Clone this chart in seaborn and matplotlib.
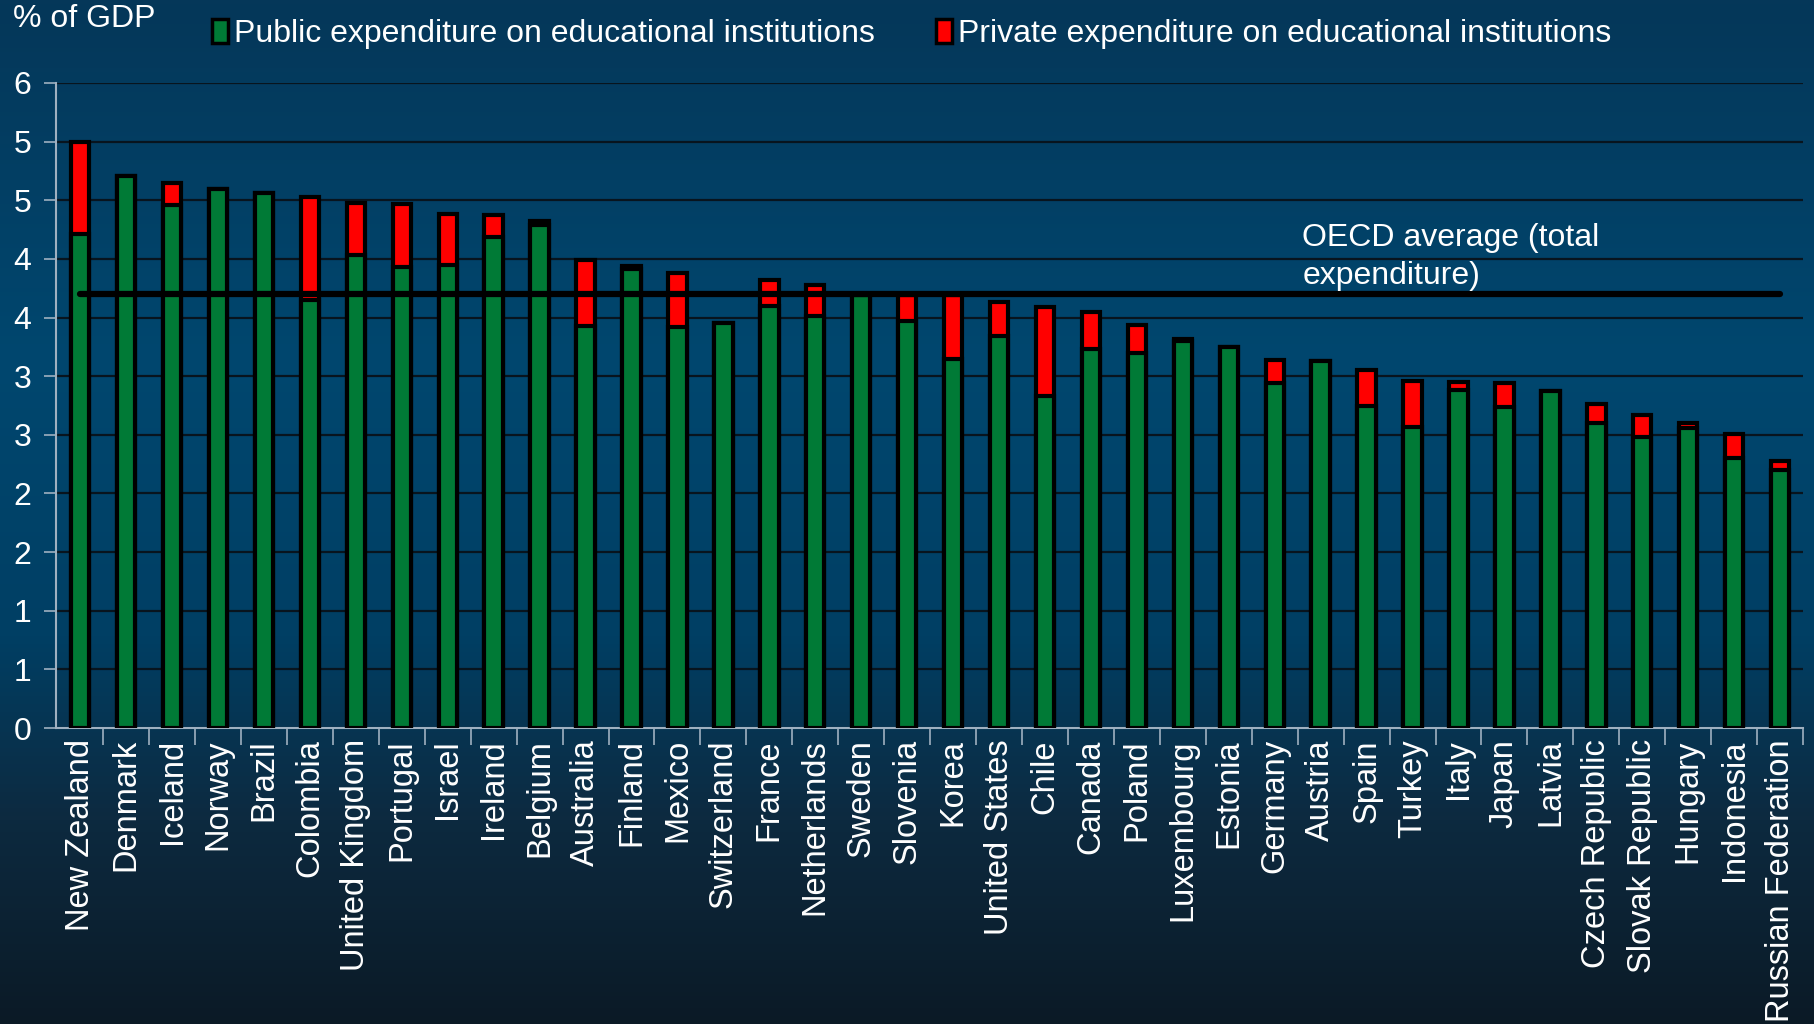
import numpy as np
import pandas as pd
import seaborn as sns
import matplotlib.pyplot as plt
from matplotlib.colors import LinearSegmentedColormap
from matplotlib.patches import Patch
from matplotlib.ticker import FuncFormatter, MultipleLocator

# data (% of GDP)
countries = ["New Zealand", "Denmark", "Iceland", "Norway", "Brazil", "Colombia",
             "United Kingdom", "Portugal", "Israel", "Ireland", "Belgium", "Australia",
             "Finland", "Mexico", "Switzerland", "France", "Netherlands", "Sweden",
             "Slovenia", "Korea", "United States", "Chile", "Canada", "Poland",
             "Luxembourg", "Estonia", "Germany", "Austria", "Spain", "Turkey", "Italy",
             "Japan", "Latvia", "Czech Republic", "Slovak Republic", "Hungary",
             "Indonesia", "Russian Federation"]
public = [4.21, 4.71, 4.46, 4.60, 4.56, 3.65, 4.03, 3.93, 3.95, 4.19, 4.29, 3.43,
          3.91, 3.42, 3.45, 3.60, 3.51, 3.69, 3.47, 3.15, 3.34, 2.83, 3.23, 3.20,
          3.30, 3.25, 2.94, 3.13, 2.75, 2.57, 2.88, 2.74, 2.87, 2.60, 2.48, 2.56,
          2.30, 2.20]
total = [5.00, 4.71, 4.65, 4.60, 4.56, 4.53, 4.48, 4.47, 4.38, 4.37, 4.32, 3.99,
         3.94, 3.88, 3.45, 3.82, 3.78, 3.69, 3.69, 3.69, 3.63, 3.59, 3.55, 3.44,
         3.32, 3.25, 3.14, 3.13, 3.05, 2.96, 2.95, 2.94, 2.87, 2.76, 2.67, 2.60,
         2.51, 2.28]
oecd_avg = 3.70

df = pd.DataFrame({"country": countries, "public": public, "total": total})

plt.rcParams['font.family'] = ['Liberation Sans', 'DejaVu Sans']
fig = plt.figure(figsize=(18.14, 10.24), dpi=100)

# gradient background
bg = fig.add_axes([0, 0, 1, 1], zorder=-10)
cmap = LinearSegmentedColormap.from_list("bg", [(0.0, "#053759"), (0.35, "#00476f"),
                                                 (0.62, "#003f64"), (0.8, "#0d2a40"),
                                                 (1.0, "#0b1a26")])
grad = np.linspace(0, 1, 256).reshape(-1, 1)
bg.imshow(grad, aspect="auto", cmap=cmap, extent=[0, 1, 0, 1], origin="upper")
bg.axis("off")

ax = fig.add_axes([0.031, 0.289, 0.963, 0.630])
ax.set_facecolor("none")

sns.barplot(data=df, x="country", y="total", order=countries, color="#ff0000",
            width=0.4, edgecolor="black", linewidth=3, saturation=1, ax=ax, zorder=3)
sns.barplot(data=df, x="country", y="public", order=countries, color="#007a36",
            width=0.4, edgecolor="black", linewidth=3, saturation=1, ax=ax, zorder=4)

ax.hlines(oecd_avg, 0, len(countries) - 1, color="black", linewidth=4.5, zorder=6,
          capstyle="round")
ax.text(26.6, oecd_avg + 0.32, "OECD average (total\nexpenditure)", color="white",
        fontsize=23, va="center", ha="left", linespacing=1.35, zorder=7)

ax.set_xlim(-0.52, len(countries) - 0.5)
ax.set_ylim(0, 5.5)
ax.yaxis.set_major_locator(MultipleLocator(0.5))
ax.yaxis.set_major_formatter(FuncFormatter(lambda v, p: f"{int(np.floor(v + 0.5))}"))
ax.grid(axis="y", color="#08141e", linewidth=1.6, zorder=0)
ax.set_axisbelow(True)

ax.set_xlabel("")
ax.set_ylabel("")
ax.set_xticks(range(len(countries)))
ax.set_xticklabels(countries, rotation=90, fontsize=23.5, color="white")
ax.set_xticks(np.arange(len(countries)) + 0.5, minor=True)
ax.tick_params(axis="x", which="major", length=0, pad=8)
ax.tick_params(axis="x", which="minor", length=12, width=1.2, color="#9fb0c0",
               direction="out")
ax.tick_params(axis="y", labelsize=23, labelcolor="white", length=9, width=1.2,
               color="#9fb0c0", pad=9)

for s in ["top", "right"]:
    ax.spines[s].set_visible(False)
for s in ["left", "bottom"]:
    ax.spines[s].set_color("#9fb0c0")
    ax.spines[s].set_linewidth(1.5)

fig.text(0.007, 0.981, "% of GDP", color="white", fontsize=23, va="center", ha="left")
handles = [Patch(facecolor="#007a36", edgecolor="black", linewidth=2.5),
           Patch(facecolor="#ff0000", edgecolor="black", linewidth=2.5)]
labels = ["Public expenditure on educational institutions",
          "Private expenditure on educational institutions"]
fig.legend(handles, labels, loc="center left", bbox_to_anchor=(0.101, 0.967), ncol=2,
           frameon=False, fontsize=23, handlelength=0.5, handleheight=0.8,
           handletextpad=0.2, columnspacing=1.9, labelcolor="white")

fig.savefig("out.png", dpi=100)
